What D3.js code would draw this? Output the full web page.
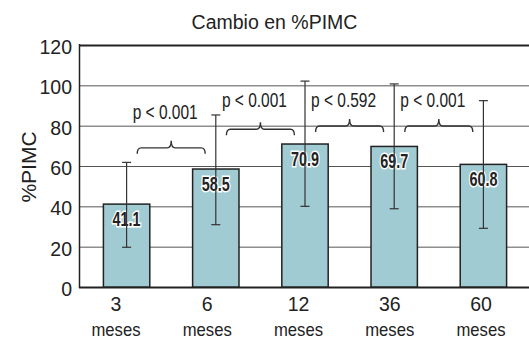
<!DOCTYPE html>
<html>
<head>
<meta charset="utf-8">
<script src="https://cdn.jsdelivr.net/npm/d3@7"></script>
<style>
  body { margin: 0; background: #fff; }
  text { font-family: "Liberation Sans", Arial, sans-serif; fill: #222; }
</style>
</head>
<body>
<div id="chart"></div>
<script>
const categories = ["3", "6", "12", "36", "60"];
const unitLabel = "meses";
const means = [41.1, 58.5, 70.9, 69.7, 60.8];
const upper = [61.8, 85.3, 102.1, 100.7, 92.4];
const lower = [19.7, 30.9, 40.0, 38.8, 29.1];
const yTicks = [0, 20, 40, 60, 80, 100, 120];
// comparisons between consecutive groups
const pairs = [[0, 1], [1, 2], [2, 3], [3, 4]];
const pLabels = ["p < 0.001", "p < 0.001", "p < 0.592", "p < 0.001"];
const braceLevel = [69, 78.2, 79.8, 79.8];
const pLabelLevel = [83.3, 89.2, 89.2, 89.2];

const width = 529, height = 339;
let svg = d3.select("#chart").append("svg")
  .attr("width", width).attr("height", height);

let y = d3.scaleLinear().domain([0, 120]).range([287, 45]);
let x = d3.scaleBand().domain(categories).range([82, 528])
  .paddingInner(0.48).paddingOuter(0.24);
// category labels sit on their own, slightly different spacing
let xl = d3.scalePoint().domain(categories).range([116, 481]);

// grid
let grid = svg.append("g").attr("transform", "translate(79,0)")
  .call(d3.axisLeft(y).tickValues(yTicks).tickSize(-(width - 79)).tickFormat(""));
grid.select(".domain").remove();
grid.selectAll("line").attr("stroke", "#555").attr("stroke-width", 1);
grid.selectAll(".tick").filter(d => d === 120 || d === 0)
  .select("line").attr("stroke", "#222").attr("stroke-width", 2);

// y tick labels
svg.append("g").selectAll("text").data(yTicks).enter().append("text")
  .attr("x", 72).attr("y", d => y(d) + 9)
  .attr("text-anchor", "end").attr("font-size", 19.5)
  .text(d => d);

// left axis line
svg.append("line").attr("x1", 79.5).attr("x2", 79.5)
  .attr("y1", y(120) - 1).attr("y2", y(0) + 1)
  .attr("stroke", "#222").attr("stroke-width", 1.5);

// bars
svg.append("g").selectAll("rect").data(means).enter().append("rect")
  .attr("x", (d, i) => x(categories[i]))
  .attr("y", d => y(d))
  .attr("width", x.bandwidth())
  .attr("height", d => y(0) - y(d))
  .attr("fill", "#a0cbd2")
  .attr("stroke", "#222").attr("stroke-width", 1.5);

// value labels
svg.append("g").selectAll("text").data(means).enter().append("text")
  .attr("x", (d, i) => x(categories[i]) + x.bandwidth() / 2)
  .attr("y", d => y(d) + 22)
  .attr("text-anchor", "middle")
  .attr("font-size", 19.5).attr("font-weight", "bold")
  .attr("textLength", 28).attr("lengthAdjust", "spacingAndGlyphs")
  .attr("stroke", "#fff").attr("stroke-width", 3).attr("paint-order", "stroke")
  .text(d => d.toFixed(1));

// error bars
let eb = svg.append("g").attr("stroke", "#333").attr("stroke-width", 1.2);
categories.forEach((c, i) => {
  let cx = x(c) + x.bandwidth() / 2;
  eb.append("line").attr("x1", cx).attr("x2", cx).attr("y1", y(upper[i])).attr("y2", y(lower[i]));
  eb.append("line").attr("x1", cx - 4.5).attr("x2", cx + 4.5).attr("y1", y(upper[i])).attr("y2", y(upper[i]));
  eb.append("line").attr("x1", cx - 4.5).attr("x2", cx + 4.5).attr("y1", y(lower[i])).attr("y2", y(lower[i]));
});

// braces + p labels
let br = svg.append("g");
pairs.forEach((p, i) => {
  let a = x(categories[p[0]]) + x.bandwidth() / 2;
  let b = x(categories[p[1]]) + x.bandwidth() / 2;
  let m = (a + b) / 2, hw = 34;
  let yy = y(braceLevel[i]);
  let path = d3.path();
  path.moveTo(m - hw, yy + 6);
  path.quadraticCurveTo(m - hw, yy, m - hw + 4, yy);
  path.lineTo(m - 4, yy);
  path.quadraticCurveTo(m, yy, m, yy - 7);
  path.quadraticCurveTo(m, yy, m + 4, yy);
  path.lineTo(m + hw - 4, yy);
  path.quadraticCurveTo(m + hw, yy, m + hw, yy + 6);
  br.append("path").attr("d", path.toString())
    .attr("fill", "none").attr("stroke", "#333").attr("stroke-width", 1.4);
  br.append("text")
    .attr("x", m - 6).attr("y", y(pLabelLevel[i]))
    .attr("text-anchor", "middle").attr("font-size", 20)
    .attr("textLength", 65).attr("lengthAdjust", "spacingAndGlyphs")
    .text(pLabels[i]);
});

// category labels
let cl = svg.append("g");
cl.selectAll(".num").data(categories).enter().append("text")
  .attr("x", d => xl(d)).attr("y", 311)
  .attr("text-anchor", "middle").attr("font-size", 19.5)
  .text(d => d);
cl.selectAll(".unit").data(categories).enter().append("text")
  .attr("x", d => xl(d)).attr("y", 336)
  .attr("text-anchor", "middle").attr("font-size", 19)
  .attr("textLength", 49).attr("lengthAdjust", "spacingAndGlyphs")
  .text(unitLabel);

// title and y axis title
svg.append("text").attr("x", 274.5).attr("y", 29)
  .attr("text-anchor", "middle").attr("font-size", 19.5)
  .text("Cambio en %PIMC");
svg.append("text")
  .attr("transform", "translate(36,167) rotate(-90)")
  .attr("text-anchor", "middle").attr("font-size", 21)
  .text("%PIMC");
</script>
</body>
</html>
